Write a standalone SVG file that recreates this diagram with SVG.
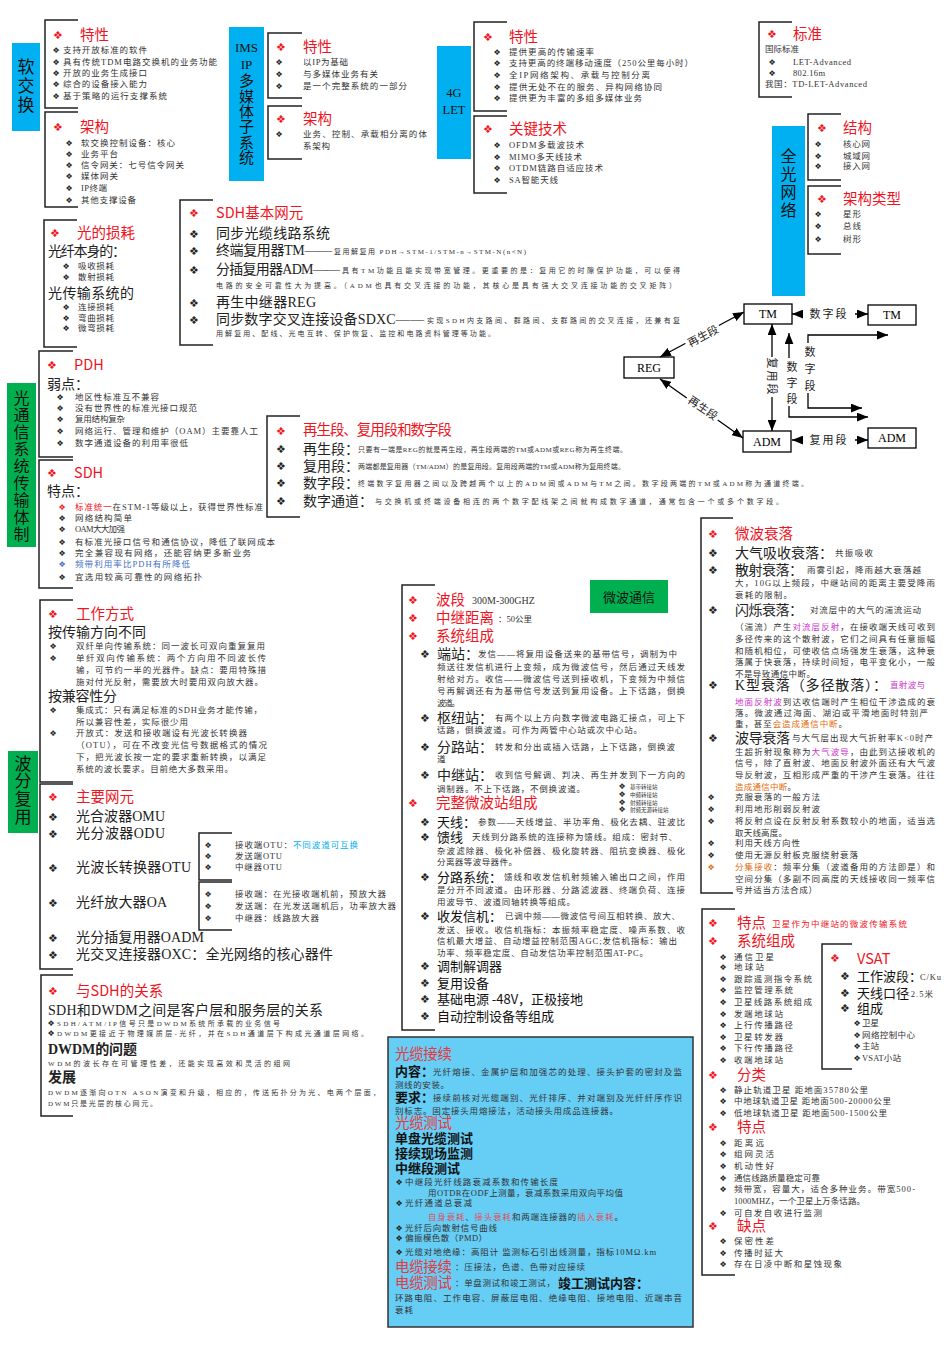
<svg xmlns="http://www.w3.org/2000/svg" width="950" height="1345" viewBox="0 0 950 1345">
<defs>
<marker id="ah" viewBox="0 0 10 8" refX="10" refY="4" markerWidth="11" markerHeight="9" markerUnits="userSpaceOnUse" orient="auto-start-reverse"><path d="M0,0 L10,4 L0,8 Z" fill="#000"/></marker>
<style>
text{font-family:"Liberation Serif","Noto Sans CJK SC",serif}
.br{fill:none;stroke:#222;stroke-width:1.5}
.bx{fill:#00b0f0}
.gb{fill:#00b050}
.vt{fill:#111;text-anchor:middle}
.t{font-family:"Noto Sans CJK SC","Noto Sans",sans-serif;font-size:14.5px;fill:#f0141e}
.s{font-size:8.5px;fill:#333}
.xs{font-size:7px;fill:#333}
.m{font-size:14px;fill:#222}
.h{font-family:"Noto Sans CJK SC","Noto Sans",sans-serif;font-size:13px;fill:#111}
.d{font-family:"DejaVu Sans",sans-serif;font-size:8px;fill:#222;text-anchor:middle}
.dr{font-family:"DejaVu Sans",sans-serif;font-size:11px;fill:#f0141e;text-anchor:middle}
.dl{font-family:"DejaVu Sans",sans-serif;font-size:11px;fill:#222;text-anchor:middle}
.nd{fill:#fff;stroke:#000;stroke-width:1.3}
.nt{font-size:12px;fill:#000;text-anchor:middle}
.cn{fill:none;stroke:#000;stroke-width:1.3}
.lb{font-size:11px;fill:#222;text-anchor:middle}
.mg{fill:#cc33cc}
.or{fill:#e46c0a}
.rd{fill:#f0141e}
</style>
</defs>
<rect width="950" height="1345" fill="#fff"/>

<!-- 软交换 -->
<g id="softswitch">
<rect class="bx" x="12" y="43" width="28" height="88"/>
<text class="vt" font-size="17" x="26" y="73">软</text>
<text class="vt" font-size="17" x="26" y="92">交</text>
<text class="vt" font-size="17" x="26" y="111">换</text>
</g>
<g id="sw-feature">
<path class="br" d="M78 20H45V108H78"/>
<text class="dr" x="58" y="39">❖</text><text class="t" x="80" y="40">特性</text>
<text class="d" x="56" y="53">❖</text><text class="s" x="63" y="53" textLength="84" lengthAdjust="spacing">支持开放标准的软件</text>
<text class="d" x="56" y="65">❖</text><text class="s" x="63" y="65" textLength="154" lengthAdjust="spacing">具有传统TDM电路交换机的业务功能</text>
<text class="d" x="56" y="76">❖</text><text class="s" x="63" y="76" textLength="84" lengthAdjust="spacing">开放的业务生成接口</text>
<text class="d" x="56" y="87">❖</text><text class="s" x="63" y="87" textLength="84" lengthAdjust="spacing">综合的设备接入能力</text>
<text class="d" x="56" y="99">❖</text><text class="s" x="63" y="99" textLength="104" lengthAdjust="spacing">基于策略的运行支撑系统</text>
</g>
<g id="sw-arch">
<path class="br" d="M78 112H45V207H78"/>
<text class="dr" x="58" y="131">❖</text><text class="t" x="80" y="132">架构</text>
<text class="d" x="69" y="146">❖</text><text class="s" x="81" y="146" textLength="94" lengthAdjust="spacing">软交换控制设备：核心</text>
<text class="d" x="69" y="157">❖</text><text class="s" x="81" y="157" textLength="37" lengthAdjust="spacing">业务平台</text>
<text class="d" x="69" y="168">❖</text><text class="s" x="81" y="168" textLength="103" lengthAdjust="spacing">信令网关：七号信令网关</text>
<text class="d" x="69" y="179">❖</text><text class="s" x="81" y="179" textLength="37" lengthAdjust="spacing">媒体网关</text>
<text class="d" x="69" y="191">❖</text><text class="s" x="81" y="191" textLength="26" lengthAdjust="spacing">IP终端</text>
<text class="d" x="69" y="203">❖</text><text class="s" x="81" y="203" textLength="55" lengthAdjust="spacing">其他支撑设备</text>
</g>

<!-- IMS -->
<g id="ims">
<rect class="bx" x="229" y="27" width="35" height="154"/>
<text class="vt" font-size="13" x="246.5" y="52">IMS</text>
<text class="vt" font-size="13" x="246.5" y="69">IP</text>
<text class="vt" font-size="15" x="246.5" y="86">多</text>
<text class="vt" font-size="15" x="246.5" y="102">媒</text>
<text class="vt" font-size="15" x="246.5" y="117">体</text>
<text class="vt" font-size="15" x="246.5" y="132">子</text>
<text class="vt" font-size="15" x="246.5" y="148">系</text>
<text class="vt" font-size="15" x="246.5" y="163">统</text>
</g>
<g id="ims-feature">
<path class="br" d="M302 33H268V98H302"/>
<text class="dr" x="281" y="51">❖</text><text class="t" x="303" y="52">特性</text>
<text class="d" x="279" y="65">❖</text><text class="s" x="303" y="65" textLength="45" lengthAdjust="spacing">以IP为基础</text>
<text class="d" x="279" y="77">❖</text><text class="s" x="303" y="77" textLength="75" lengthAdjust="spacing">与多媒体业务有关</text>
<text class="d" x="279" y="89">❖</text><text class="s" x="303" y="89" textLength="104" lengthAdjust="spacing">是一个完整系统的一部分</text>
</g>
<g id="ims-arch">
<path class="br" d="M302 106H268V159H302"/>
<text class="dr" x="281" y="123">❖</text><text class="t" x="303" y="124">架构</text>
<text class="d" x="279" y="137">❖</text><text class="s" x="303" y="137" textLength="124" lengthAdjust="spacing">业务、控制、承载相分离的体</text>
<text class="s" x="303" y="149" textLength="27" lengthAdjust="spacing">系架构</text>
</g>

<!-- 4G LET -->
<g id="lte">
<rect class="bx" x="437" y="46" width="34" height="113"/>
<text class="vt" font-size="12.5" x="454" y="97">4G</text>
<text class="vt" font-size="12.5" x="454" y="114">LET</text>
</g>
<g id="lte-feature">
<path class="br" d="M507 22H474V111H507"/>
<text class="dr" x="488" y="41">❖</text><text class="t" x="509" y="42">特性</text>
<text class="d" x="497" y="55">❖</text><text class="s" x="509" y="55" textLength="85" lengthAdjust="spacing">提供更高的传输速率</text>
<text class="d" x="497" y="66">❖</text><text class="s" x="509" y="66" textLength="184" lengthAdjust="spacing">支持更高的终端移动速度（250公里每小时）</text>
<text class="d" x="497" y="78">❖</text><text class="s" x="509" y="78" textLength="141" lengthAdjust="spacing">全IP网络架构、承载与控制分离</text>
<text class="d" x="497" y="90">❖</text><text class="s" x="509" y="90" textLength="153" lengthAdjust="spacing">提供无处不在的服务、异构网络协同</text>
<text class="d" x="497" y="101">❖</text><text class="s" x="509" y="101" textLength="133" lengthAdjust="spacing">提供更为丰富的多组多媒体业务</text>
</g>
<g id="lte-key">
<path class="br" d="M507 116H474V193H507"/>
<text class="dr" x="488" y="133">❖</text><text class="t" x="509" y="134">关键技术</text>
<text class="d" x="497" y="148">❖</text><text class="s" x="509" y="148" textLength="75" lengthAdjust="spacing">OFDM多载波技术</text>
<text class="d" x="497" y="160">❖</text><text class="s" x="509" y="160" textLength="73" lengthAdjust="spacing">MIMO多天线技术</text>
<text class="d" x="497" y="171">❖</text><text class="s" x="509" y="171" textLength="94" lengthAdjust="spacing">OTDM链路自适应技术</text>
<text class="d" x="497" y="183">❖</text><text class="s" x="509" y="183" textLength="49" lengthAdjust="spacing">SA智能天线</text>
</g>

<!-- 标准 -->
<g id="standard">
<path class="br" d="M792 22H759V97H792"/>
<text class="dr" x="772" y="38">❖</text><text class="t" x="793" y="39">标准</text>
<text class="s" x="765" y="52" font-size="7">国际标准</text>
<text class="d" x="772" y="65">❖</text><text class="s" x="793" y="65" textLength="58" lengthAdjust="spacing">LET-Advanced</text>
<text class="d" x="772" y="76">❖</text><text class="s" x="793" y="76" textLength="32" lengthAdjust="spacing">802.16m</text>
<text class="s" x="765" y="87" textLength="102" lengthAdjust="spacing">我国：TD-LET-Advanced</text>
</g>

<!-- 全光网络 -->
<g id="aon">
<rect class="bx" x="772" y="126" width="33" height="170"/>
<text class="vt" font-size="16" x="788.5" y="162">全</text>
<text class="vt" font-size="16" x="788.5" y="180">光</text>
<text class="vt" font-size="16" x="788.5" y="198">网</text>
<text class="vt" font-size="16" x="788.5" y="216">络</text>
</g>
<g id="aon-struct">
<path class="br" d="M841 114H808V180H841"/>
<text class="dr" x="822" y="132">❖</text><text class="t" x="843" y="133">结构</text>
<text class="d" x="818" y="147">❖</text><text class="s" x="843" y="147" textLength="27" lengthAdjust="spacing">核心网</text>
<text class="d" x="818" y="159">❖</text><text class="s" x="843" y="159" textLength="27" lengthAdjust="spacing">城域网</text>
<text class="d" x="818" y="169">❖</text><text class="s" x="843" y="169" textLength="27" lengthAdjust="spacing">接入网</text>
</g>
<g id="aon-type">
<path class="br" d="M841 186H808V254H841"/>
<text class="dr" x="822" y="203">❖</text><text class="t" x="843" y="204">架构类型</text>
<text class="d" x="818" y="217">❖</text><text class="s" x="843" y="217" textLength="18" lengthAdjust="spacing">星形</text>
<text class="d" x="818" y="229">❖</text><text class="s" x="843" y="229" textLength="18" lengthAdjust="spacing">总线</text>
<text class="d" x="818" y="242">❖</text><text class="s" x="843" y="242" textLength="18" lengthAdjust="spacing">树形</text>
</g>

<!-- 光的损耗 -->
<g id="loss">
<path class="br" d="M77 220H44V347H77"/>
<text class="dr" x="55" y="237">❖</text><text class="t" x="77" y="238">光的损耗</text>
<text class="m" x="48" y="256" font-size="13" textLength="78" lengthAdjust="spacing">光纤本身的：</text>
<text class="d" x="66" y="269">❖</text><text class="s" x="78" y="269" textLength="36" lengthAdjust="spacing">吸收损耗</text>
<text class="d" x="66" y="280">❖</text><text class="s" x="78" y="280" textLength="36" lengthAdjust="spacing">散射损耗</text>
<text class="m" x="48" y="298" font-size="14" textLength="86" lengthAdjust="spacing">光传输系统的</text>
<text class="d" x="66" y="310">❖</text><text class="s" x="78" y="310" textLength="36" lengthAdjust="spacing">连接损耗</text>
<text class="d" x="66" y="321">❖</text><text class="s" x="78" y="321" textLength="36" lengthAdjust="spacing">弯曲损耗</text>
<text class="d" x="66" y="331">❖</text><text class="s" x="78" y="331" textLength="36" lengthAdjust="spacing">微弯损耗</text>
</g>

<!-- SDH基本网元 -->
<g id="sdh-ne">
<path class="br" d="M213 200H180V345H213"/>
<text class="dr" x="194" y="217">❖</text><text class="t" x="216" y="218">SDH基本网元</text>
<text class="dl" x="194" y="238">❖</text><text class="m" x="216" y="238" textLength="114" lengthAdjust="spacing">同步光缆线路系统</text>
<text class="dl" x="194" y="255">❖</text><text class="m" x="216" y="255" textLength="116" lengthAdjust="spacing">终端复用器TM——</text>
<text class="xs" x="334" y="254" textLength="192" lengthAdjust="spacing">复用解复用 PDH→STM-1/STM-n→STM-N(n&lt;N)</text>
<text class="dl" x="194" y="274">❖</text><text class="m" x="216" y="274" textLength="124" lengthAdjust="spacing">分插复用器ADM——</text>
<text class="xs" x="342" y="273" textLength="338" lengthAdjust="spacing">具有TM功能且能实现带宽管理。更重要的是：复用它的时隙保护功能，可以使得</text>
<text class="xs" x="216" y="288" textLength="460" lengthAdjust="spacing">电路的安全可靠性大为提高。（ADM也具有交叉连接的功能，其核心是具有强大交叉连接功能的交叉矩阵）</text>
<text class="dl" x="194" y="307">❖</text><text class="m" x="216" y="307" textLength="100" lengthAdjust="spacing">再生中继器REG</text>
<text class="dl" x="194" y="324">❖</text><text class="m" x="216" y="324" textLength="208" lengthAdjust="spacing">同步数字交叉连接设备SDXC——</text>
<text class="xs" x="427" y="323" textLength="253" lengthAdjust="spacing">实现SDH内支路间、群路间、支群路间的交叉连接，还兼有复</text>
<text class="xs" x="216" y="336" textLength="279" lengthAdjust="spacing">用解复用、配线、光电互转、保护恢复、监控和电路资料管理等功能。</text>
</g>

<!-- TM / REG / ADM diagram nodes -->
<g id="node-tm1"><rect class="nd" x="744" y="304" width="48" height="20" stroke-width="2"/><text class="nt" x="768" y="318">TM</text></g>
<g id="node-tm2"><rect class="nd" x="868" y="305" width="48" height="20"/><text class="nt" x="892" y="319">TM</text></g>
<g id="node-reg"><rect class="nd" x="624" y="357" width="50" height="21"/><text class="nt" x="649" y="372">REG</text></g>
<g id="node-adm1"><rect class="nd" x="743" y="431" width="48" height="21" stroke-width="2"/><text class="nt" x="767" y="446">ADM</text></g>
<g id="node-adm2"><rect class="nd" x="868" y="428" width="48" height="20"/><text class="nt" x="892" y="442">ADM</text></g>

<g id="connectors">
<line class="cn" x1="660" y1="357" x2="744" y2="312" marker-start="url(#ah)" marker-end="url(#ah)"/>
<line class="cn" x1="660" y1="379" x2="743" y2="438" marker-start="url(#ah)" marker-end="url(#ah)"/>
<line class="cn" x1="792" y1="314" x2="868" y2="314" marker-start="url(#ah)" marker-end="url(#ah)"/>
<line class="cn" x1="772" y1="324" x2="772" y2="431" marker-start="url(#ah)" marker-end="url(#ah)"/>
<path class="cn" d="M789 333V417H868" marker-start="url(#ah)" marker-end="url(#ah)"/>
<path class="cn" d="M888 335H808V408H862" marker-start="url(#ah)" marker-end="url(#ah)"/>
<line class="cn" x1="792" y1="440" x2="868" y2="440" marker-start="url(#ah)" marker-end="url(#ah)"/>
<g transform="translate(703 336) rotate(-28)"><rect x="-19" y="-7" width="38" height="13" fill="#fff"/><text class="lb" x="0" y="4">再生段</text></g>
<g transform="translate(703 408) rotate(34)"><rect x="-19" y="-7" width="38" height="13" fill="#fff"/><text class="lb" x="0" y="4">再生段</text></g>
<rect x="803" y="307" width="52" height="14" fill="#fff"/><text class="lb" x="829" y="318" letter-spacing="2">数字段</text>
<rect x="803" y="433" width="52" height="14" fill="#fff"/><text class="lb" x="829" y="444" letter-spacing="2">复用段</text>
<g transform="translate(772 377) rotate(90)"><rect x="-20" y="-7" width="40" height="13" fill="#fff"/><text class="lb" x="0" y="4" letter-spacing="2">复用段</text></g>
<rect x="785" y="358" width="14" height="48" fill="#fff"/>
<text class="lb" x="792" y="371">数</text><text class="lb" x="792" y="387">字</text><text class="lb" x="792" y="403">段</text>
<rect x="803" y="343" width="14" height="50" fill="#fff"/>
<text class="lb" x="810" y="356">数</text><text class="lb" x="810" y="373">字</text><text class="lb" x="810" y="390">段</text>
</g>

<!-- 光通信系统传输体制 -->
<g id="optical-system">
<rect class="gb" x="7" y="383" width="29" height="164"/>
<text class="vt" font-size="16" x="21.5" y="404">光</text>
<text class="vt" font-size="16" x="21.5" y="421">通</text>
<text class="vt" font-size="16" x="21.5" y="438">信</text>
<text class="vt" font-size="16" x="21.5" y="455">系</text>
<text class="vt" font-size="16" x="21.5" y="472">统</text>
<text class="vt" font-size="16" x="21.5" y="489">传</text>
<text class="vt" font-size="16" x="21.5" y="506">输</text>
<text class="vt" font-size="16" x="21.5" y="523">体</text>
<text class="vt" font-size="16" x="21.5" y="540">制</text>
</g>
<g id="pdh">
<path class="br" d="M73 351H39V457H73"/>
<text class="dr" x="52" y="369">❖</text><text class="t" x="74" y="370" font-size="16">PDH</text>
<text class="m" x="47" y="389" font-size="14">弱点：</text>
<text class="d" x="60" y="400">❖</text><text class="s" x="75" y="400" textLength="84" lengthAdjust="spacing">地区性标准互不兼容</text>
<text class="d" x="60" y="411">❖</text><text class="s" x="75" y="411" textLength="122" lengthAdjust="spacing">没有世界性的标准光接口规范</text>
<text class="d" x="60" y="422">❖</text><text class="s" x="75" y="422" textLength="50" lengthAdjust="spacing">复用结构复杂</text>
<text class="d" x="60" y="434">❖</text><text class="s" x="75" y="434" textLength="183" lengthAdjust="spacing">网络运行、管理和维护（OAM）主要靠人工</text>
<text class="d" x="60" y="446">❖</text><text class="s" x="75" y="446" textLength="113" lengthAdjust="spacing">数字通道设备的利用率很低</text>
</g>
<g id="sdh">
<path class="br" d="M73 460H39V588H73"/>
<text class="dr" x="52" y="477">❖</text><text class="t" x="74" y="478" font-size="16">SDH</text>
<text class="m" x="47" y="496" font-size="14">特点：</text>
<text class="d rd" x="62" y="510">❖</text><text class="s" x="75" y="510" textLength="188" lengthAdjust="spacing"><tspan class="rd">标准统一</tspan>在STM-1等级以上，获得世界性标准</text>
<text class="d" x="62" y="521">❖</text><text class="s" x="75" y="521" textLength="57" lengthAdjust="spacing">网络结构简单</text>
<text class="d" x="62" y="532">❖</text><text class="s" x="75" y="532" textLength="50" lengthAdjust="spacing">OAM大大加强</text>
<text class="d" x="62" y="545">❖</text><text class="s" x="75" y="545" textLength="200" lengthAdjust="spacing">有标准光接口信号和通信协议，降低了联网成本</text>
<text class="d" x="62" y="556">❖</text><text class="s" x="75" y="556" textLength="176" lengthAdjust="spacing">完全兼容现有网络，还能容纳更多新业务</text>
<text class="d" x="62" y="567" style="fill:#3f6fbf">❖</text><text class="s" x="75" y="567" textLength="115" lengthAdjust="spacing" style="fill:#3f6fbf">频带利用率比PDH有所降低</text>
<text class="d" x="62" y="580">❖</text><text class="s" x="75" y="580" textLength="127" lengthAdjust="spacing">宜选用较高可靠性的网络拓扑</text>
</g>

<!-- 再生段、复用段和数字段 -->
<g id="sections">
<path class="br" d="M300 416H267V517H300"/>
<text class="dr" x="281" y="435">❖</text><text class="t" x="303" y="435" textLength="149" lengthAdjust="spacing">再生段、复用段和数字段</text>
<text class="dl" x="281" y="453">❖</text><text class="m" x="303" y="454" font-size="13">再生段：</text>
<text class="xs" x="358" y="452" textLength="269" lengthAdjust="spacing">只要有一端是REG的就是再生段，再生段两端的TM或ADM或REG称为再生终端。</text>
<text class="dl" x="281" y="470">❖</text><text class="m" x="303" y="471" font-size="13">复用段：</text>
<text class="xs" x="358" y="469" textLength="267" lengthAdjust="spacing">两端都是复用器（TM/ADM）的是复用段。复用段两端的TM或ADM称为复用终端。</text>
<text class="dl" x="281" y="487">❖</text><text class="m" x="303" y="488" font-size="13">数字段：</text>
<text class="xs" x="358" y="486" textLength="450" lengthAdjust="spacing">终端数字复用器之间以及跨越两个以上的ADM间或ADM与TM之间。数字段两端的TM或ADM称为通道终端。</text>
<text class="dl" x="281" y="505">❖</text><text class="m" x="303" y="506" font-size="13">数字通道：</text>
<text class="xs" x="375" y="504" textLength="408" lengthAdjust="spacing">与交换机或终端设备相连的两个数字配线架之间就构成数字通道，通常包含一个或多个数字段。</text>
</g>

<!-- 波分复用 -->
<g id="wdm">
<rect class="gb" x="8" y="751" width="30" height="82"/>
<text class="vt" font-size="17" x="23" y="770">波</text>
<text class="vt" font-size="17" x="23" y="787">分</text>
<text class="vt" font-size="17" x="23" y="805">复</text>
<text class="vt" font-size="17" x="23" y="823">用</text>
</g>
<g id="wdm-mode">
<path class="br" d="M73 600H40V782H73"/>
<text class="dr" x="53" y="618">❖</text><text class="t" x="76" y="619">工作方式</text>
<text class="m" x="48" y="637" textLength="98" lengthAdjust="spacing">按传输方向不同</text>
<text class="d" x="53" y="649">❖</text><text class="s" x="76" y="649" textLength="189" lengthAdjust="spacing">双纤单向传输系统：同一波长可双向重复复用</text>
<text class="d" x="53" y="661">❖</text><text class="s" x="76" y="661" textLength="190" lengthAdjust="spacing">单纤双向传输系统：两个方向用不同波长传</text>
<text class="s" x="76" y="673" textLength="190" lengthAdjust="spacing">输，可节约一半的光器件。缺点：要用特殊措</text>
<text class="s" x="76" y="685" textLength="187" lengthAdjust="spacing">施对付光反射，需要放大时要用双向放大器。</text>
<text class="m" x="48" y="701" textLength="69" lengthAdjust="spacing">按兼容性分</text>
<text class="d" x="53" y="713">❖</text><text class="s" x="76" y="713" textLength="186" lengthAdjust="spacing">集成式：只有满足标准的SDH业务才能传输，</text>
<text class="s" x="76" y="725" textLength="112" lengthAdjust="spacing">所以兼容性差，实际很少用</text>
<text class="d" x="53" y="736">❖</text><text class="s" x="76" y="736" textLength="171" lengthAdjust="spacing">开放式：发送和接收端设有光波长转换器</text>
<text class="s" x="76" y="748" textLength="191" lengthAdjust="spacing">（OTU），可在不改变光信号数据格式的情况</text>
<text class="s" x="76" y="760" textLength="190" lengthAdjust="spacing">下，把光波长按一定的要求重新转换，以满足</text>
<text class="s" x="76" y="772" textLength="157" lengthAdjust="spacing">系统的波长要求。目前绝大多数采用。</text>
</g>
<g id="wdm-ne">
<path class="br" d="M73 784H40V969H73"/>
<text class="dr" x="53" y="801">❖</text><text class="t" x="76" y="802">主要网元</text>
<text class="dl" x="53" y="821">❖</text><text class="m" x="76" y="821" textLength="89" lengthAdjust="spacing">光合波器OMU</text>
<text class="dl" x="53" y="838">❖</text><text class="m" x="76" y="838" textLength="89" lengthAdjust="spacing">光分波器ODU</text>
<text class="dl" x="53" y="872">❖</text><text class="m" x="76" y="872" textLength="115" lengthAdjust="spacing">光波长转换器OTU</text>
<text class="dl" x="53" y="907">❖</text><text class="m" x="76" y="907" textLength="91" lengthAdjust="spacing">光纤放大器OA</text>
<text class="dl" x="53" y="942">❖</text><text class="m" x="76" y="942" textLength="128" lengthAdjust="spacing">光分插复用器OADM</text>
<text class="dl" x="53" y="959">❖</text><text class="m" x="76" y="959" textLength="257" lengthAdjust="spacing">光交叉连接器OXC：全光网络的核心器件</text>
</g>
<g id="wdm-otu">
<path class="br" d="M232 833H199V880H232"/>
<text class="d" x="208" y="848">❖</text><text class="s" x="235" y="848" textLength="123" lengthAdjust="spacing">接收端OTU：<tspan style="fill:#00b0f0">不同波道可互换</tspan></text>
<text class="d" x="208" y="859">❖</text><text class="s" x="235" y="859" textLength="47" lengthAdjust="spacing">发送端OTU</text>
<text class="d" x="208" y="870">❖</text><text class="s" x="235" y="870" textLength="47" lengthAdjust="spacing">中继器OTU</text>
</g>
<g id="wdm-oa">
<path class="br" d="M232 882H199V930H232"/>
<text class="d" x="208" y="897">❖</text><text class="s" x="235" y="897" textLength="151" lengthAdjust="spacing">接收端：在光接收端机前，预放大器</text>
<text class="d" x="208" y="909">❖</text><text class="s" x="235" y="909" textLength="161" lengthAdjust="spacing">发送端：在光发送端机后，功率放大器</text>
<text class="d" x="208" y="921">❖</text><text class="s" x="235" y="921" textLength="84" lengthAdjust="spacing">中继器：线路放大器</text>
</g>

<!-- 与SDH的关系 -->
<g id="wdm-sdh">
<path class="br" d="M73 975H41V1116H73"/>
<text class="dr" x="53" y="995">❖</text><text class="t" x="76" y="996">与SDH的关系</text>
<text class="m" x="48" y="1015" font-size="15" textLength="275" lengthAdjust="spacing">SDH和DWDM之间是客户层和服务层的关系</text>
<text class="d" x="51" y="1026">❖</text><text class="xs" x="57" y="1026" textLength="223" lengthAdjust="spacing">SDH/ATM/IP信号只是DWDM系统所承载的业务信号</text>
<text class="d" x="51" y="1036">❖</text><text class="xs" x="57" y="1036" textLength="311" lengthAdjust="spacing">DWDM更接近于物理媒质层-光纤，并在SDH通道层下构成光通道层网络。</text>
<text class="m" x="48" y="1054" font-size="14" font-weight="bold" textLength="89" lengthAdjust="spacing">DWDM的问题</text>
<text class="xs" x="48" y="1066" textLength="242" lengthAdjust="spacing">WDM的波长存在可管理性差，还能实现高效和灵活的组网</text>
<text class="m" x="48" y="1082" font-size="14" font-weight="bold">发展</text>
<text class="xs" x="48" y="1095" textLength="332" lengthAdjust="spacing">DWDM逐渐向OTN ASON演变和升级，相应的，传送拓扑分为光、电两个层面，</text>
<text class="xs" x="48" y="1106" textLength="109" lengthAdjust="spacing">DWM只是光层的核心网元。</text>
</g>

<!-- 微波通信 -->
<g id="microwave">
<rect class="gb" x="590" y="580" width="78" height="33"/>
<text class="h" x="629" y="602" font-size="14" text-anchor="middle">微波通信</text>
</g>
<g id="mw-system">
<path class="br" d="M435 585H402V1030H435"/>
<text class="dr" x="413" y="604">❖</text><text class="t" x="436" y="605" font-size="15">波段</text>
<text x="472" y="604" font-family="Liberation Sans, sans-serif" font-size="10" fill="#333">300M-300GHZ</text>
<text class="dr" x="413" y="622">❖</text><text class="t" x="436" y="623" font-size="15">中继距离</text>
<text class="s" x="498" y="622">：50公里</text>
<text class="dr" x="413" y="640">❖</text><text class="t" x="436" y="641" font-size="15">系统组成</text>
<text class="dl" x="425" y="658">❖</text><text class="m" x="437" y="659" font-size="13">端站：</text>
<text class="s" x="478" y="657" textLength="199" lengthAdjust="spacing">发信——将复用设备送来的基带信号，调制为中</text>
<text class="s" x="437" y="670" textLength="248" lengthAdjust="spacing">频送往发信机进行上变频，成为微波信号，然后通过天线发</text>
<text class="s" x="437" y="682" textLength="248" lengthAdjust="spacing">射给对方。收信——微波信号送到接收机，下变频为中频信</text>
<text class="s" x="437" y="694" textLength="248" lengthAdjust="spacing">号再解调还有为基带信号发送到复用设备。上下话路，倒换</text>
<text class="s" x="437" y="706" textLength="23" lengthAdjust="spacing">波道。</text>
<text class="dl" x="425" y="722">❖</text><text class="m" x="437" y="723" font-size="13">枢纽站：</text>
<text class="s" x="495" y="721" textLength="190" lengthAdjust="spacing">有两个以上方向数字微波电路汇接点，可上下</text>
<text class="s" x="437" y="733" textLength="205" lengthAdjust="spacing">话路，倒换波道。可作为两管中心站或次中心站。</text>
<text class="dl" x="425" y="751">❖</text><text class="m" x="437" y="752" font-size="13">分路站：</text>
<text class="s" x="495" y="750" textLength="180" lengthAdjust="spacing">转发和分出或插入话路，上下话路，倒换波</text>
<text class="s" x="437" y="762" textLength="13" lengthAdjust="spacing">道。</text>
<text class="dl" x="425" y="779">❖</text><text class="m" x="437" y="780" font-size="13">中继站：</text>
<text class="s" x="495" y="778" textLength="190" lengthAdjust="spacing">收到信号解调、判决、再生并发到下一方向的</text>
<text class="s" x="437" y="792" textLength="148" lengthAdjust="spacing">调制器。不上下话路，不倒换波道。</text>
<g>
<text class="d" x="622" y="789" font-size="5.5">❖</text><text x="630" y="789" font-size="5.5" fill="#333">基带转接站</text>
<text class="d" x="622" y="797" font-size="5.5">❖</text><text x="630" y="797" font-size="5.5" fill="#333">中频转接站</text>
<text class="d" x="622" y="805" font-size="5.5">❖</text><text x="630" y="805" font-size="5.5" fill="#333">射频转接站</text>
<text class="d" x="622" y="812" font-size="5.5">❖</text><text x="630" y="812" font-size="5.5" fill="#333">射频无源转接站</text>
</g>
<text class="dr" x="413" y="807">❖</text><text class="t" x="436" y="808" font-size="15">完整微波站组成</text>
<text class="dl" x="425" y="826">❖</text><text class="h" x="437" y="827">天线：</text>
<text class="s" x="478" y="825" textLength="207" lengthAdjust="spacing">参数——天线增益、半功率角、极化去耦、驻波比</text>
<text class="dl" x="425" y="841">❖</text><text class="h" x="437" y="842">馈线</text>
<text class="s" x="472" y="840" textLength="205" lengthAdjust="spacing">天线到分路系统的连接称为馈线。组成：密封节、</text>
<text class="s" x="437" y="854" textLength="248" lengthAdjust="spacing">杂波滤除器、极化补偿器、极化旋转器、阻抗变换器、极化</text>
<text class="s" x="437" y="865" textLength="80" lengthAdjust="spacing">分离器等波导器件。</text>
<text class="dl" x="425" y="881">❖</text><text class="h" x="437" y="882">分路系统：</text>
<text class="s" x="504" y="880" textLength="181" lengthAdjust="spacing">馈线和收发信机射频输入输出口之间，作用</text>
<text class="s" x="437" y="893" textLength="248" lengthAdjust="spacing">是分开不同波道。由环形器、分路滤波器、终端负荷、连接</text>
<text class="s" x="437" y="905" textLength="138" lengthAdjust="spacing">用波导节、波道同轴转换等组成。</text>
<text class="dl" x="425" y="920">❖</text><text class="h" x="437" y="921">收发信机：</text>
<text class="s" x="505" y="919" textLength="175" lengthAdjust="spacing">已调中频——微波信号间互相转换、放大、</text>
<text class="s" x="437" y="933" textLength="248" lengthAdjust="spacing">发送、接收。收信机指标：本振频率稳定度、噪声系数、收</text>
<text class="s" x="437" y="944" textLength="240" lengthAdjust="spacing">信机最大增益、自动增益控制范围AGC;发信机指标：输出</text>
<text class="s" x="437" y="956" textLength="211" lengthAdjust="spacing">功率、频率稳定度、自动发信功率控制范围AT-PC。</text>
<text class="dl" x="425" y="970">❖</text><text class="h" x="437" y="971">调制解调器</text>
<text class="dl" x="425" y="987">❖</text><text class="h" x="437" y="988">复用设备</text>
<text class="dl" x="425" y="1003">❖</text><text class="h" x="437" y="1004" textLength="146" lengthAdjust="spacing">基础电源 -48V，正极接地</text>
<text class="dl" x="425" y="1020">❖</text><text class="h" x="437" y="1021">自动控制设备等组成</text>
</g>

<!-- 微波衰落 -->
<g id="mw-fading">
<path class="br" d="M733 518H701V893H733"/>
<text class="dr" x="713" y="538">❖</text><text class="t" x="735" y="539" font-size="15">微波衰落</text>
<text class="dl" x="713" y="557">❖</text><text class="m" x="735" y="558" textLength="98" lengthAdjust="spacing">大气吸收衰落：</text>
<text class="s" x="835" y="556" textLength="38" lengthAdjust="spacing">共振吸收</text>
<text class="dl" x="713" y="574">❖</text><text class="m" x="735" y="575" textLength="68" lengthAdjust="spacing">散射衰落：</text>
<text class="s" x="807" y="573" textLength="114" lengthAdjust="spacing">雨雾引起，降雨越大衰落越</text>
<text class="s" x="735" y="586" textLength="200" lengthAdjust="spacing">大，10G以上频段，中继站间的距离主要受降雨</text>
<text class="s" x="735" y="598" textLength="57" lengthAdjust="spacing">衰耗的限制。</text>
<text class="dl" x="713" y="614">❖</text><text class="m" x="735" y="615" textLength="68" lengthAdjust="spacing">闪烁衰落：</text>
<text class="s" x="810" y="613" textLength="111" lengthAdjust="spacing">对流层中的大气的湍流运动</text>
<text class="s" x="735" y="630" textLength="200" lengthAdjust="spacing">（湍流）产生<tspan class="mg">对流层反射</tspan>，在接收端天线可收到</text>
<text class="s" x="735" y="642" textLength="200" lengthAdjust="spacing">多径传来的这个散射波，它们之间具有任意振幅</text>
<text class="s" x="735" y="654" textLength="200" lengthAdjust="spacing">和随机相位，可使收信点场强发生衰落，这种衰</text>
<text class="s" x="735" y="665" textLength="200" lengthAdjust="spacing">落属于快衰落，持续时间短，电平变化小，一般</text>
<text class="s" x="735" y="677" textLength="80" lengthAdjust="spacing">不是导致通信中断。</text>
<text class="dl" x="713" y="689">❖</text><text class="m" x="735" y="690" textLength="152" lengthAdjust="spacing">K型衰落（多径散落）：</text>
<text class="s mg" x="890" y="688" textLength="35" lengthAdjust="spacing">直射波与</text>
<text class="s" x="735" y="705" textLength="200" lengthAdjust="spacing"><tspan class="mg">地面反射波</tspan>到达收信端时产生相位干涉造成的衰</text>
<text class="s" x="735" y="716" textLength="193" lengthAdjust="spacing">落。微波通过海面、湖泊或平滑地面时特别严</text>
<text class="s" x="735" y="727" textLength="112" lengthAdjust="spacing">重，甚至<tspan class="or">会造成通信中断</tspan>。</text>
<text class="dl" x="713" y="742">❖</text><text class="m" x="735" y="743" textLength="55" lengthAdjust="spacing">波导衰落</text>
<text class="s" x="792" y="741" textLength="141" lengthAdjust="spacing">与大气层出现大气折射率K&lt;0时产</text>
<text class="s" x="735" y="755" textLength="200" lengthAdjust="spacing">生超折射现象称为<tspan class="mg">大气波导</tspan>，由此到达接收机的</text>
<text class="s" x="735" y="766" textLength="200" lengthAdjust="spacing">信号，除了直射波、地面反射波外面还有大气波</text>
<text class="s" x="735" y="778" textLength="200" lengthAdjust="spacing">导反射波，互相形成严重的干涉产生衰落。往往</text>
<text class="s or" x="735" y="790" textLength="61" lengthAdjust="spacing">造成通信中断<tspan fill="#333">。</tspan></text>
<text class="d" x="711" y="800">❖</text><text class="s" x="735" y="800" textLength="85" lengthAdjust="spacing">克服衰落的一般方法</text>
<text class="d" x="711" y="812">❖</text><text class="s" x="735" y="812" textLength="85" lengthAdjust="spacing">利用地形削弱反射波</text>
<text class="d" x="711" y="824">❖</text><text class="s" x="735" y="824" textLength="200" lengthAdjust="spacing">将反射点设在反射反射系数较小的地面，适当选</text>
<text class="s" x="735" y="836" textLength="52" lengthAdjust="spacing">取天线高度。</text>
<text class="d" x="711" y="846">❖</text><text class="s" x="735" y="846" textLength="65" lengthAdjust="spacing">利用天线方向性</text>
<text class="d" x="711" y="858">❖</text><text class="s" x="735" y="858" textLength="123" lengthAdjust="spacing">使用无源反射板克服绕射衰落</text>
<text class="d" x="711" y="870" style="fill:#e46c0a">❖</text><text class="s" x="735" y="870" textLength="200" lengthAdjust="spacing"><tspan class="or">分集接收</tspan>：频率分集（波道备用的方法即是）和</text>
<text class="s" x="735" y="882" textLength="200" lengthAdjust="spacing">空间分集（多副不同高度的天线接收同一频率信</text>
<text class="s" x="735" y="893" textLength="82" lengthAdjust="spacing">号并适当方法合成）</text>
</g>

<!-- 卫星通信 -->
<g id="satellite">
<path class="br" d="M735 909H702V1275H735"/>
<text class="dr" x="713" y="927">❖</text><text class="t" x="737" y="928" font-size="15">特点</text>
<text class="s rd" x="772" y="927" textLength="135" lengthAdjust="spacing">卫星作为中继站的微波传输系统</text>
<text class="dr" x="713" y="945">❖</text><text class="t" x="737" y="946" font-size="15">系统组成</text>
<text class="d" x="723" y="960">❖</text><text class="s" x="734" y="960" textLength="40" lengthAdjust="spacing">通信卫星</text>
<text class="d" x="723" y="970">❖</text><text class="s" x="734" y="970" textLength="30" lengthAdjust="spacing">地球站</text>
<text class="d" x="723" y="982">❖</text><text class="s" x="734" y="982" textLength="78" lengthAdjust="spacing">跟踪遥测指令系统</text>
<text class="d" x="723" y="993">❖</text><text class="s" x="734" y="993" textLength="59" lengthAdjust="spacing">监控管理系统</text>
<text class="d" x="723" y="1005">❖</text><text class="s" x="734" y="1005" textLength="78" lengthAdjust="spacing">卫星线路系统组成</text>
<text class="d" x="723" y="1017">❖</text><text class="s" x="734" y="1017" textLength="49" lengthAdjust="spacing">发端地球站</text>
<text class="d" x="723" y="1028">❖</text><text class="s" x="734" y="1028" textLength="59" lengthAdjust="spacing">上行传播路径</text>
<text class="d" x="723" y="1040">❖</text><text class="s" x="734" y="1040" textLength="49" lengthAdjust="spacing">卫星转发器</text>
<text class="d" x="723" y="1051">❖</text><text class="s" x="734" y="1051" textLength="59" lengthAdjust="spacing">下行传播路径</text>
<text class="d" x="723" y="1063">❖</text><text class="s" x="734" y="1063" textLength="49" lengthAdjust="spacing">收端地球站</text>
<text class="dr" x="713" y="1079">❖</text><text class="t" x="737" y="1080" font-size="15">分类</text>
<text class="d" x="723" y="1093">❖</text><text class="s" x="734" y="1093" textLength="134" lengthAdjust="spacing">静止轨道卫星 距地面35780公里</text>
<text class="d" x="723" y="1104">❖</text><text class="s" x="734" y="1104" textLength="157" lengthAdjust="spacing">中地球轨道卫星 距地面500-20000公里</text>
<text class="d" x="723" y="1116">❖</text><text class="s" x="734" y="1116" textLength="153" lengthAdjust="spacing">低地球轨道卫星 距地面500-1500公里</text>
<text class="dr" x="713" y="1131">❖</text><text class="t" x="737" y="1132" font-size="15">特点</text>
<text class="d" x="723" y="1146">❖</text><text class="s" x="734" y="1146" textLength="30" lengthAdjust="spacing">距离远</text>
<text class="d" x="723" y="1157">❖</text><text class="s" x="734" y="1157" textLength="40" lengthAdjust="spacing">组网灵活</text>
<text class="d" x="723" y="1169">❖</text><text class="s" x="734" y="1169" textLength="40" lengthAdjust="spacing">机动性好</text>
<text class="d" x="723" y="1181">❖</text><text class="s" x="734" y="1181" textLength="86" lengthAdjust="spacing">通信线路质量稳定可靠</text>
<text class="d" x="723" y="1192">❖</text><text class="s" x="734" y="1192" textLength="181" lengthAdjust="spacing">频带宽，容量大，适合多种业务。带宽500-</text>
<text class="s" x="734" y="1204" textLength="131" lengthAdjust="spacing">1000MHZ，一个卫星上万条话路。</text>
<text class="d" x="723" y="1216">❖</text><text class="s" x="734" y="1216" textLength="88" lengthAdjust="spacing">可自发自收进行监测</text>
<text class="dr" x="713" y="1230">❖</text><text class="t" x="737" y="1231" font-size="15">缺点</text>
<text class="d" x="723" y="1244">❖</text><text class="s" x="734" y="1244" textLength="40" lengthAdjust="spacing">保密性差</text>
<text class="d" x="723" y="1256">❖</text><text class="s" x="734" y="1256" textLength="49" lengthAdjust="spacing">传播时延大</text>
<text class="d" x="723" y="1267">❖</text><text class="s" x="734" y="1267" textLength="108" lengthAdjust="spacing">存在日凌中断和星蚀现象</text>
</g>
<g id="vsat">
<path class="br" d="M852 944H822V1069H852"/>
<text class="dr" x="835" y="962">❖</text><text class="t" x="857" y="964" font-size="17">VSAT</text>
<text class="dl" x="845" y="980">❖</text><text class="h" x="857" y="981" font-size="11">工作波段：</text>
<text class="s" x="920" y="980" textLength="21" lengthAdjust="spacing">C/Ku</text>
<text class="dl" x="845" y="997">❖</text><text class="h" x="857" y="998" font-size="11">天线口径</text>
<text class="s" x="905" y="997" textLength="28" lengthAdjust="spacing">&lt;2.5米</text>
<text class="dl" x="845" y="1012">❖</text><text class="h" x="857" y="1013" font-size="11">组成</text>
<text class="d" x="857" y="1026">❖</text><text class="s" x="862" y="1026">卫星</text>
<text class="d" x="857" y="1038">❖</text><text class="s" x="862" y="1038" textLength="53" lengthAdjust="spacing">网络控制中心</text>
<text class="d" x="857" y="1049">❖</text><text class="s" x="862" y="1049">主站</text>
<text class="d" x="857" y="1061">❖</text><text class="s" x="862" y="1061" textLength="39" lengthAdjust="spacing">VSAT小站</text>
</g>

<!-- 光缆接续 -->
<g id="cable">
<rect x="388" y="1037" width="305" height="290" fill="#66cdf5" stroke="#333" stroke-width="1.5"/>
<text class="t" x="395" y="1059" font-size="14" style="fill:#e8383d" textLength="57" lengthAdjust="spacing">光缆接续</text>
<text class="h" x="395" y="1076" font-size="11.5" font-weight="bold">内容：</text>
<text class="s" x="433" y="1075" font-size="9" textLength="249" lengthAdjust="spacing">光纤熔接、金属护层和加强芯的处理、接头护套的密封及监</text>
<text class="s" x="395" y="1088" font-size="9" textLength="54" lengthAdjust="spacing">测线的安装。</text>
<text class="h" x="395" y="1102" font-size="11.5" font-weight="bold">要求：</text>
<text class="s" x="433" y="1101" font-size="9" textLength="249" lengthAdjust="spacing">接续前核对光缆端别、光纤排序、并对端别及光纤纤序作识</text>
<text class="s" x="395" y="1114" font-size="9" textLength="223" lengthAdjust="spacing">别标志。固定接头用熔接法，活动接头用成品连接器。</text>
<text class="t" x="395" y="1128" font-size="14" style="fill:#e8383d" textLength="57" lengthAdjust="spacing">光缆测试</text>
<text class="h" x="395" y="1143" font-size="10" font-weight="bold">单盘光缆测试</text>
<text class="h" x="395" y="1158" font-size="10" font-weight="bold">接续现场监测</text>
<text class="h" x="395" y="1173" font-size="10" font-weight="bold">中继段测试</text>
<text class="d" x="399" y="1185">❖</text><text class="s" x="405" y="1185" font-size="8" textLength="153" lengthAdjust="spacing">中继段光纤线路衰减系数和传输长度</text>
<text class="s" x="428" y="1196" font-size="9" textLength="195" lengthAdjust="spacing">用OTDR在ODF上测量，衰减系数采用双向平均值</text>
<text class="d" x="399" y="1206">❖</text><text class="s" x="405" y="1206" font-size="8" textLength="67" lengthAdjust="spacing">光纤通道总衰减</text>
<text class="s" x="428" y="1220" font-size="9" textLength="195" lengthAdjust="spacing"><tspan style="fill:#e05060">自身衰耗</tspan>、<tspan style="fill:#e05060">接头衰耗</tspan>和两端连接器的<tspan style="fill:#e05060">插入衰耗</tspan>。</text>
<text class="d" x="399" y="1231">❖</text><text class="s" x="405" y="1231" font-size="8" textLength="92" lengthAdjust="spacing">光纤后向散射信号曲线</text>
<text class="d" x="399" y="1241">❖</text><text class="s" x="405" y="1241" font-size="8" textLength="82" lengthAdjust="spacing">偏振模色散（PMD）</text>
<text class="d" x="399" y="1255">❖</text><text class="s" x="405" y="1255" font-size="8.5" textLength="251" lengthAdjust="spacing">光缆对地绝缘：高阻计 监测标石引出线测量，指标10MΩ.km</text>
<text class="t" x="395" y="1272" font-size="14" style="fill:#e8383d" textLength="57" lengthAdjust="spacing">电缆接续</text>
<text class="s" x="455" y="1270" font-size="9" textLength="130" lengthAdjust="spacing">：压接法，色谱、色带对应接续</text>
<text class="t" x="395" y="1288" font-size="14" style="fill:#e8383d" textLength="57" lengthAdjust="spacing">电缆测试</text>
<text class="s" x="455" y="1286" font-size="8.5" textLength="100" lengthAdjust="spacing">：单盘测试和竣工测试，</text>
<text class="h" x="558" y="1288" font-size="12" font-weight="bold">竣工测试内容：</text>
<text class="s" x="395" y="1301" font-size="9" textLength="287" lengthAdjust="spacing">环路电阻、工作电容、屏蔽层电阻、绝缘电阻、接地电阻、近端串音</text>
<text class="s" x="395" y="1313" font-size="9" textLength="18" lengthAdjust="spacing">衰耗</text>
</g>
</svg>
